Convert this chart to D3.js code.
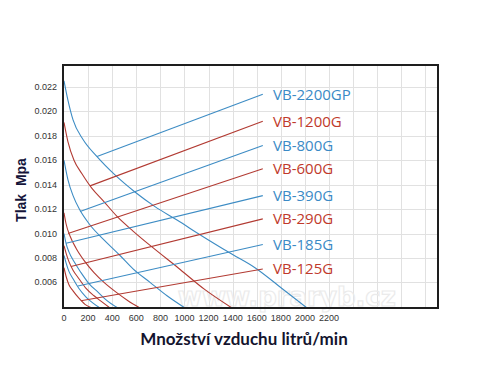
<!DOCTYPE html>
<html>
<head>
<meta charset="utf-8">
<script src="https://cdn.jsdelivr.net/npm/d3@7"></script>
<style>
  body { margin: 0; background: #fff; }
  svg { display: block; }
</style>
</head>
<body>
<div id="chart"></div>
<script>
// Pump names, top to bottom in the legend
const pumps = ["VB-2200GP", "VB-1200G", "VB-800G", "VB-600G", "VB-390G", "VB-290G", "VB-185G", "VB-125G"];

// Pressure curves: [flow l/min, pressure MPa]
const curve2200GP = [[0,0.0225],[33,0.0209],[75,0.0193],[158,0.0177],[274,0.0163],[423,0.0148],[589,0.0134],[755,0.0122],[938,0.0111],[1145,0.0098],[1378,0.0084],[1585,0.0072],[1809,0.0055],[2017,0.0039]];
const curve1200G = [[0,0.0191],[33,0.0175],[83,0.0160],[149,0.0149],[232,0.0137],[324,0.0127],[440,0.0114],[573,0.0102],[730,0.0089],[946,0.0072],[1170,0.0054],[1394,0.0039]];
const curve800G = [[0,0.0160],[33,0.0144],[75,0.0131],[133,0.0119],[216,0.0107],[340,0.0094],[465,0.0082],[573,0.0071],[714,0.0060],[855,0.0049],[1004,0.0039]];
const curve600G = [[0,0.0117],[17,0.0108],[50,0.0098],[100,0.0088],[166,0.0078],[249,0.0068],[332,0.0060],[432,0.0052],[531,0.0045],[631,0.0039]];
const curve390G = [[0,0.0100],[17,0.0092],[41,0.0085],[83,0.0077],[141,0.0068],[207,0.0059],[282,0.0052],[357,0.0045],[448,0.0039]];
const curve290G = [[0,0.0090],[17,0.0084],[41,0.0077],[75,0.0070],[124,0.0063],[183,0.0055],[249,0.0049],[315,0.0044],[382,0.0039]];
const curve185G = [[0,0.0082],[17,0.0076],[41,0.0069],[75,0.0063],[124,0.0055],[183,0.0048],[241,0.0043],[299,0.0039]];
const curve125G = [[0,0.0072],[17,0.0065],[41,0.0058],[75,0.0053],[124,0.0047],[174,0.0042],[232,0.0039]];
const curves = [curve2200GP, curve1200G, curve800G, curve600G, curve390G, curve290G, curve185G, curve125G];

// Leader lines from each curve to its label
const leaderStart = [[274,0.0163],[216,0.0139],[133,0.0118],[33,0.0100],[17,0.0092],[58,0.0073],[116,0.0057],[141,0.0045]];
const leaderEndFlow = 1650;
const labelFlow = 1735;
const labelPressure = [0.0214, 0.0192, 0.0172, 0.0153, 0.0131, 0.0112, 0.0091, 0.0071];

// Axis ticks
const xTicks = [0, 200, 400, 600, 800, 1000, 1200, 1400, 1600, 1800, 2000, 2200];
const xGrid = [200, 400, 600, 800, 1000, 1200, 1400, 1600, 1800, 2000, 2200, 2400, 2600, 2800, 3000];
const yTicks = [0.006, 0.008, 0.010, 0.012, 0.014, 0.016, 0.018, 0.020, 0.022];

const width = 491, height = 378;
const plot = { left: 64, right: 438, top: 65, bottom: 308 };
const blue = "#3d8cc4", red = "#b23b33";
const lineColor = i => (i % 2 === 0 ? blue : red);
const textColor = i => (i % 2 === 0 ? "#3a8ac6" : "#c0392b");

const svg = d3.select("#chart")
    .append("svg")
    .attr("width", width)
    .attr("height", height);

const x = d3.scaleLinear().domain([0, 3104]).range([plot.left, plot.right]);
const y = d3.scaleLinear().domain([0.0039, 0.0238]).range([plot.bottom, plot.top]);

svg.append("clipPath").attr("id", "clip")
    .append("rect")
    .attr("x", plot.left).attr("y", plot.top)
    .attr("width", plot.right - plot.left).attr("height", plot.bottom - plot.top);

// Grid
const grid = svg.append("g").attr("stroke", "#e1e1e1").attr("stroke-width", 1);
grid.selectAll("line.v")
    .data(xGrid)
    .join("line")
    .attr("class", "v")
    .attr("x1", d => Math.round(x(d)) + 0.5).attr("x2", d => Math.round(x(d)) + 0.5)
    .attr("y1", plot.top).attr("y2", plot.bottom);
grid.selectAll("line.h")
    .data(yTicks)
    .join("line")
    .attr("class", "h")
    .attr("y1", d => Math.round(y(d)) + 0.5).attr("y2", d => Math.round(y(d)) + 0.5)
    .attr("x1", plot.left).attr("x2", plot.right);

// Faint watermark, kept inside the plot and below the labels
svg.append("text")
    .attr("x", x(1850))
    .attr("y", y(0.0041))
    .attr("text-anchor", "middle")
    .attr("font-family", "'DejaVu Sans', sans-serif")
    .attr("font-size", 26)
    .attr("font-weight", "bold")
    .attr("fill", "none")
    .attr("stroke", "#ebebeb")
    .attr("stroke-width", 1.2)
    .text("www.praryb.cz");

const line = d3.line()
    .x(d => x(d[0]))
    .y(d => y(d[1]))
    .curve(d3.curveMonotoneX);

const marks = svg.append("g").attr("clip-path", "url(#clip)");

// Pump curves
marks.selectAll("path.curve")
    .data(curves)
    .join("path")
    .attr("class", "curve")
    .attr("d", line)
    .attr("fill", "none")
    .attr("stroke", (d, i) => lineColor(i))
    .attr("stroke-width", 1.1);

// Leader lines
marks.selectAll("line.leader")
    .data(leaderStart)
    .join("line")
    .attr("class", "leader")
    .attr("x1", d => x(d[0]))
    .attr("y1", d => y(d[1]))
    .attr("x2", x(leaderEndFlow))
    .attr("y2", (d, i) => y(labelPressure[i]))
    .attr("stroke", (d, i) => lineColor(i))
    .attr("stroke-width", 1.1);

// Labels
svg.selectAll("text.label")
    .data(pumps)
    .join("text")
    .attr("class", "label")
    .attr("x", x(labelFlow))
    .attr("y", (d, i) => y(labelPressure[i]) + 5.5)
    .attr("font-family", "'Open Sans', sans-serif")
    .attr("font-size", 15)
    .attr("fill", (d, i) => textColor(i))
    .text(d => d);

// Frame
svg.append("rect")
    .attr("x", plot.left - 1).attr("y", plot.top)
    .attr("width", plot.right - plot.left + 1).attr("height", plot.bottom - plot.top)
    .attr("fill", "none")
    .attr("stroke", "#1e1e1e")
    .attr("stroke-width", 2);

// Tick labels
svg.append("g")
    .selectAll("text")
    .data(xTicks)
    .join("text")
    .attr("x", d => x(d))
    .attr("y", 321)
    .attr("text-anchor", "middle")
    .attr("font-family", "'Liberation Sans', Arial, sans-serif")
    .attr("font-size", 9)
    .attr("fill", "#333")
    .text(d => d);

svg.append("g")
    .selectAll("text")
    .data(yTicks)
    .join("text")
    .attr("x", 57)
    .attr("y", d => y(d) + 3)
    .attr("text-anchor", "end")
    .attr("font-family", "'Liberation Sans', Arial, sans-serif")
    .attr("font-size", 9)
    .attr("fill", "#333")
    .text(d => d3.format(".3f")(d));

// Axis titles
svg.append("text")
    .attr("transform", "translate(26,190) rotate(-90)")
    .attr("text-anchor", "middle")
    .attr("font-family", "'Liberation Sans', Arial, sans-serif")
    .attr("font-size", 14)
    .attr("font-weight", "bold")
    .attr("fill", "#14143a")
    .attr("xml:space", "preserve")
    .text("Tlak  Mpa");

svg.append("text")
    .attr("x", 244)
    .attr("y", 345)
    .attr("text-anchor", "middle")
    .attr("font-family", "Lato, sans-serif")
    .attr("font-size", 17)
    .attr("font-weight", "bold")
    .attr("fill", "#14142e")
    .text("Množství vzduchu litrů/min");
</script>
</body>
</html>
